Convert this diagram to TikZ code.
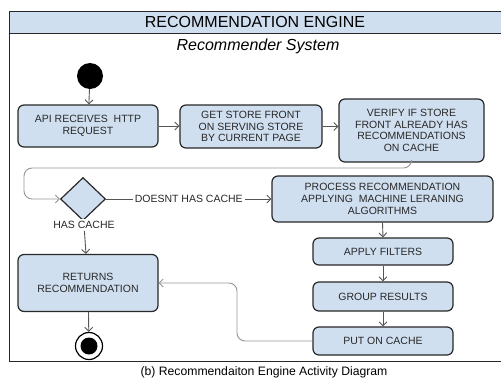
\documentclass[tikz,border=0pt]{standalone}
\usepackage{fontspec}
\setmainfont{Liberation Sans}
\usetikzlibrary{arrows.meta, shapes.geometric}
\definecolor{boxblue}{RGB}{207,223,240}
\definecolor{linegray}{RGB}{85,85,85}
\definecolor{loopgray}{RGB}{150,150,150}
\definecolor{txtgray}{RGB}{40,40,40}

\begin{document}
\begin{tikzpicture}[x=1pt, y=-1pt, >={Straight Barb[length=4pt,width=8pt]},
  act/.style={draw=txtgray, line width=1.2pt, fill=boxblue, rounded corners=6pt, align=center, text=txtgray, font=\fontsize{10.5}{11.7}\selectfont, inner sep=2pt},
  flow/.style={->, draw=linegray, line width=0.9pt},
  backflow/.style={flow, draw=loopgray, rounded corners=8pt},
  lbl/.style={text=txtgray, font=\fontsize{10.5}{11.7}\selectfont, fill=white, inner sep=2pt}]
\useasboundingbox (0,0) rectangle (501,378);
\clip (0,0) rectangle (501,378);
% frame and header
\draw[txtgray, line width=1pt, fill=boxblue] (9,11) rectangle (515,33);
\draw[txtgray, line width=1pt] (9,11) rectangle (515,361);
\node (title) at (255,22) {\fontsize{16}{18}\selectfont RECOMMENDATION ENGINE};
\node (subtitle) at (258,46) {\fontsize{16}{18}\selectfont\itshape Recommender System};
% activities
\node (start) [circle, fill=black, minimum size=26pt, inner sep=0] at (90,76) {};
\node (api) [act, minimum width=140pt, minimum height=42pt] at (88,126) {API RECEIVES \ HTTP\\REQUEST};
\node (getfront) [act, minimum width=142pt, minimum height=43pt] at (251,126.5) {GET STORE FRONT\\ON SERVING STORE\\BY CURRENT PAGE};
\node (verify) [act, minimum width=145pt, minimum height=63pt] at (411.5,130.5) {VERIFY IF STORE\\FRONT ALREADY HAS\\RECOMMENDATIONS\\ON CACHE};
\node (check) [diamond, draw=txtgray, fill=boxblue, line width=1.2pt, minimum width=45pt, minimum height=43pt, inner sep=0] at (83,199) {};
\node (process) [act, minimum width=221pt, minimum height=46pt] at (382.5,199) {PROCESS RECOMMENDATION\\APPLYING \ MACHINE LERANING\\ALGORITHMS};
\node (hascache) [lbl] at (84,225) {HAS CACHE};
\node (returns) [act, minimum width=140pt, minimum height=57pt] at (88,283) {RETURNS\\RECOMMENDATION};
\node (filters) [act, minimum width=140pt, minimum height=27pt] at (383,251.5) {APPLY FILTERS};
\node (group) [act, minimum width=140pt, minimum height=29pt] at (383,296.5) {GROUP RESULTS};
\node (cache) [act, minimum width=140pt, minimum height=28pt] at (383,341) {PUT ON CACHE};
\node (finish) [circle, draw=black, line width=1.2pt, fill=white, minimum size=27pt, inner sep=0, path picture={\fill[black] (path picture bounding box.center) circle (8.5pt);}] at (89,346) {};
\coordinate (loopback) at (24,168);
\coordinate (turn) at (237,283);
% connectors
\draw[flow] (start) -- (api);
\draw[flow] (api) -- (api -| getfront.west);
\draw[flow] (getfront.east) -- (getfront.east -| verify.west);
\draw[backflow] (verify.south) |- (loopback) |- (check.west);
\draw[flow] (check.east) -- node[lbl]{DOESNT HAS CACHE} (process.west);
\draw[flow] (hascache) -- (returns);
\draw[flow] (process.south) -- (filters.north);
\draw[flow] (filters) -- (group);
\draw[flow] (group) -- (cache);
\draw[backflow] (cache.west) -| (turn) -- (returns.east);
\draw[flow] (returns) -- (finish);
\node (caption) at (264,372) {\fontsize{12.2}{14}\selectfont (b) Recommendaiton Engine Activity Diagram};
\end{tikzpicture}
\end{document}
